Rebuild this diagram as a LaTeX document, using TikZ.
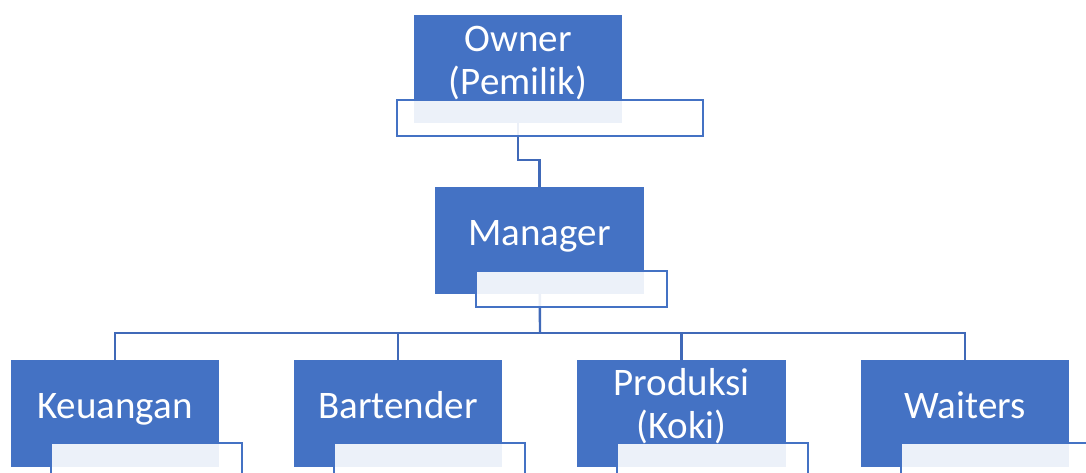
\documentclass[tikz,border=0pt]{standalone}
\usepackage{fontspec}
\setmainfont{Carlito}
\definecolor{accent}{HTML}{4472C4}
\definecolor{connc}{HTML}{4069B8}
\begin{document}
\begin{tikzpicture}[x=1pt,y=-1pt,
  bluebox/.style={draw=none, fill=accent, minimum width=208pt, minimum height=107pt, inner sep=0pt},
  subbox/.style={draw=accent, line width=2.4pt, fill=white, fill opacity=0.9, minimum height=36pt, inner sep=0pt},
  lbl/.style={text=white, font=\fontsize{39}{43}\selectfont, align=center, anchor=base, inner sep=0pt},
  conn/.style={draw=connc, line width=2.4pt}]
\useasboundingbox (0,0) rectangle (1086,473);
% box frames (named, drawn later)
\node[bluebox, fill=none] (owner) at (518,69) {};
\node[bluebox, fill=none] (mgr) at (539.5,240.5) {};
\node[bluebox, fill=none] (keu) at (115,413.5) {};
\node[bluebox, fill=none] (bar) at (398,413.5) {};
\node[bluebox, fill=none] (pro) at (681.5,413.5) {};
\node[bluebox, fill=none] (wai) at (965,413.5) {};
\coordinate (bus) at (540,333);
% connectors (behind)
\draw[conn] (owner.center) -- ++(0,91) -| (mgr.north);
\draw[conn] (mgr.center) -- (bus);
\foreach \n in {keu,bar,pro,wai} \draw[conn] (bus) -| (\n.north);
% filled boxes
\foreach \n in {owner,mgr,keu,bar,pro,wai} \fill[accent] (\n.south west) rectangle (\n.north east);
% secondary boxes
\node[subbox, minimum width=306pt] (ownerS) at (550,118) {};
\node[subbox, minimum width=191pt] (mgrS) at (571.5,289) {};
\node[subbox, minimum width=191pt] (keuS) at (146.5,461) {};
\node[subbox, minimum width=191pt] (barS) at (429.5,461) {};
\node[subbox, minimum width=191pt] (proS) at (712.5,461) {};
\node[subbox, minimum width=191pt] (waiS) at (996.5,461) {};
% labels (base = baseline of last line)
\node[lbl] (ownerT) at (518,95) {Owner\\(Pemilik)};
\node[lbl] (mgrT) at (539.5,245) {Manager};
\node[lbl] (keuT) at (115,418) {Keuangan};
\node[lbl] (barT) at (398,418) {Bartender};
\node[lbl] (proT) at (681.5,438) {Produksi\\(Koki)};
\node[lbl] (waiT) at (965,418) {Waiters};
\end{tikzpicture}
\end{document}
